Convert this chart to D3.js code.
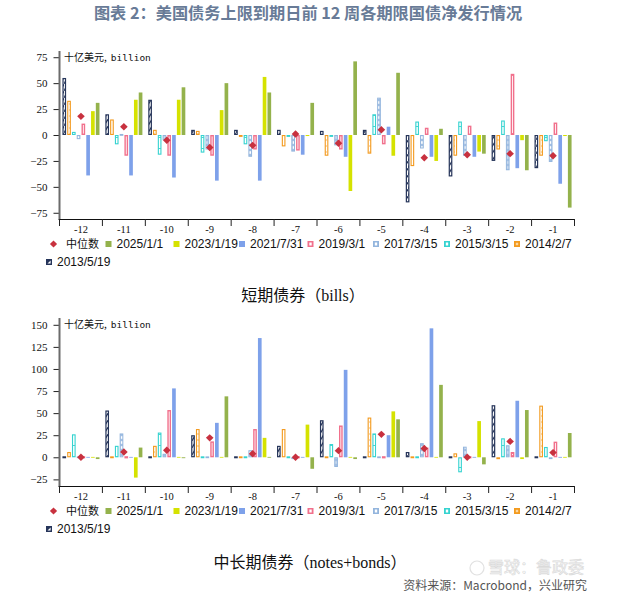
<!DOCTYPE html>
<html>
<head>
<meta charset="utf-8">
<script src="https://cdn.jsdelivr.net/npm/d3@7/dist/d3.min.js"></script>
<style>
  html, body { margin: 0; padding: 0; background: #fff; }
  svg { display: block; }
</style>
</head>
<body>
<svg id="chart" width="624" height="598"></svg>
<script>
// ---------------- DATA ----------------
const weeks = ["-12", "-11", "-10", "-9", "-8", "-7", "-6", "-5", "-4", "-3", "-2", "-1"];
const seriesNames = ["2013/5/19", "2014/2/7", "2015/3/15", "2017/3/15", "2019/3/1", "2021/7/31", "2023/1/19", "2025/1/1"];
const legendOrder = ["2025/1/1", "2023/1/19", "2021/7/31", "2019/3/1", "2017/3/15", "2015/3/15", "2014/2/7", "2013/5/19"];
const medianLabel = "中位数";

// short-term bills (billion USD), weeks -12 .. -1
const bills2013 = [55, 20, 34, 5, 5, 5, 4, 5, -65, -40, -25, -32];
const bills2014 = [33, 15, 5, 4, -1.5, -11, -20, -18, -30, -20, -14, -20];
const bills2015 = [3, -9, -19, -17, -9, -1, -1, 20, 13, 13, 14, -6];
const bills2017 = [-4, 1, -5, -14, -21, -16, -10, 36, -13, -20, -34, -26];
const bills2019 = [11, -20, -20, -20, -14, -15, -14, -9, 7, 9, 59, 12];
const bills2021 = [-39, -39, -41, -44, -44, -19, -21, 8, -21, -21, -32, -47];
const bills2023 = [23, 34, 34, 24, 56, -1, -54, -20, -25, -16, -5, -1];
const bills2025 = [31, 41, 46, 50, 41, 31, 71, 60, 6, -18, -34, -70];
const billsMedian = [18, 8, -5, -12, -10, 1, -8, 5, -22, -19, -18, -20];
const billsTicks = [-75, -50, -25, 0, 25, 50, 75];

// notes + bonds (billion USD), weeks -12 .. -1
const bonds2013 = [0, 53, 0, 25, 0, 13, 42, 0, 6, 0, 59, 0];
const bonds2014 = [6, 0, 13, 32, 0, 32, 0, 45, 0, 4.5, -1, 58.5];
const bonds2015 = [26, 13, 28, 0, 0, 0, 15, 27, 0, -17, 21.5, 11.7];
const bonds2017 = [0, 27, 4, 0, 8, -1, -11, 0, 16, 12, 13.6, -1];
const bonds2019 = [0, 0, 53.5, 18, 32, 0, 36, 0, 11, 0, 6, 17.7];
const bonds2021 = [0, 0, 78, 39, 135, 0, 99, 25, 146, 0, 64, 0];
const bonds2023 = [0, -23, 0, 0, 22, 37, 0, 52, 0, 41, -2, 0];
const bonds2025 = [-2, 11, -1, 69, 0, -13, -2, 43, 82, -8, 53.5, 27.5];
const bondsMedian = [0, 6, 8, 22, 4, 0, 7.5, 26, 10, 0, 18, 5.3];
const bondsTicks = [-25, 0, 25, 50, 75, 100, 125, 150];

const titleText = "图表 2：美国债务上限到期日前 12 周各期限国债净发行情况";
const unitCJK = "十亿美元,";
const unitLatin = "billion";
const billsSubtitle = "短期债券（bills）";
const bondsSubtitle = "中长期债券（notes+bonds）";
const sourceText = "资料来源：Macrobond，兴业研究";
const watermarkText = "雪球：鲁政委";

// ---------------- STYLE ----------------
const colors = {
  "2013/5/19": "#26355a",
  "2014/2/7": "#f39a1e",
  "2015/3/15": "#35d3d0",
  "2017/3/15": "#93b5dd",
  "2019/3/1": "#f1708c",
  "2021/7/31": "#7ea1ea",
  "2023/1/19": "#d5e200",
  "2025/1/1": "#94b24c"
};
const medianColor = "#c8313f";
const strokeW = { "2013/5/19": 1.2, "2014/2/7": 1.1, "2015/3/15": 1.1, "2017/3/15": 1.0, "2019/3/1": 1.4 };
const patternId = { "2013/5/19": "p2013", "2014/2/7": "p2014", "2015/3/15": "p2015", "2017/3/15": "p2017", "2019/3/1": "p2019" };

const svg = d3.select("#chart");
const defs = svg.append("defs");

// patterns
(function () {
  let p = defs.append("pattern").attr("id", "p2013").attr("patternUnits", "userSpaceOnUse")
    .attr("width", 4).attr("height", 7);
  p.append("rect").attr("width", 4).attr("height", 7).attr("fill", "#fff");
  p.append("path").attr("d", "M-0.5,7.5 L4.5,-0.5").attr("stroke", colors["2013/5/19"]).attr("stroke-width", 1.2);

  p = defs.append("pattern").attr("id", "p2014").attr("patternUnits", "userSpaceOnUse")
    .attr("width", 4).attr("height", 6);
  p.append("rect").attr("width", 4).attr("height", 6).attr("fill", "#fff");
  p.append("path").attr("d", "M1,1 L3,3 M3,1 L1,3").attr("stroke", "#f7c27a").attr("stroke-width", 0.6);

  p = defs.append("pattern").attr("id", "p2015").attr("patternUnits", "userSpaceOnUse")
    .attr("width", 4).attr("height", 11);
  p.append("rect").attr("width", 4).attr("height", 11).attr("fill", "#fff");
  p.append("rect").attr("y", 5).attr("width", 4).attr("height", 0.9).attr("fill", colors["2015/3/15"]);

  p = defs.append("pattern").attr("id", "p2017").attr("patternUnits", "userSpaceOnUse")
    .attr("width", 4).attr("height", 5);
  p.append("rect").attr("width", 4).attr("height", 5).attr("fill", "#a4c0e4");
  p.append("rect").attr("x", 0.6).attr("y", 1.2).attr("width", 2.8).attr("height", 2.6).attr("fill", "#fff");

  p = defs.append("pattern").attr("id", "p2019").attr("patternUnits", "userSpaceOnUse")
    .attr("width", 4).attr("height", 4);
  p.append("rect").attr("width", 4).attr("height", 4).attr("fill", "#fff");
})();

// ---------------- TITLE ----------------
svg.append("text")
  .attr("x", 308).attr("y", 19)
  .attr("text-anchor", "middle")
  .attr("font-family", "'Noto Sans CJK SC', sans-serif")
  .attr("font-weight", "bold")
  .attr("font-size", 16.2)
  .attr("fill", "#687b97")
  .text(titleText);

// ---------------- PANEL ----------------
function drawPanel(cfg) {
  const g = svg.append("g");
  const x = d3.scaleBand().domain(weeks).range([cfg.left, cfg.right]).paddingInner(0).paddingOuter(0);
  const xi = d3.scaleBand().domain(seriesNames).range([0, x.bandwidth()]).paddingInner(0.23).paddingOuter(0.615);
  const y = d3.scaleLinear().domain(cfg.domain).range([cfg.bottom, cfg.top]);

  // bars
  seriesNames.forEach(s => {
    const vals = cfg.data[s];
    const sw = strokeW[s] || 0;
    const gs = g.append("g");
    gs.selectAll("rect").data(vals.map((v, i) => ({ v, w: weeks[i] }))).join("rect")
      .attr("x", d => x(d.w) + xi(s) + sw / 2)
      .attr("width", Math.max(0.5, xi.bandwidth() - sw))
      .attr("y", d => Math.min(y(d.v), y(0)) + (d.v === 0 ? -0.4 : sw / 2))
      .attr("height", d => Math.max(0.8, Math.abs(y(d.v) - y(0)) - sw))
      .attr("fill", d => patternId[s] ? `url(#${patternId[s]})` : colors[s])
      .attr("stroke", sw ? colors[s] : "none")
      .attr("stroke-width", sw);
  });

  // median diamonds
  g.append("g").selectAll("path").data(cfg.median.map((v, i) => ({ v, w: weeks[i] }))).join("path")
    .attr("d", "M0,-3.7 L3.8,0 L0,3.7 L-3.8,0 Z")
    .attr("transform", d => `translate(${x(d.w) + x.bandwidth() / 2},${y(d.v)})`)
    .attr("fill", medianColor);

  // left axis
  const ya = g.append("g").attr("transform", `translate(${cfg.left},0)`)
    .call(d3.axisLeft(y).tickValues(cfg.ticks).tickSize(6).tickPadding(6));
  ya.select(".domain").remove();
  ya.selectAll(".tick line").attr("stroke", "#222");
  ya.selectAll(".tick text")
    .attr("font-family", "'Liberation Serif', serif").attr("font-size", 11).attr("fill", "#111");
  g.append("line").attr("x1", cfg.left).attr("x2", cfg.left)
    .attr("y1", cfg.top).attr("y2", cfg.bottom)
    .attr("stroke", "#6b6b6b").attr("stroke-width", 2);

  // bottom axis
  g.append("line").attr("x1", cfg.left - 1).attr("x2", cfg.right)
    .attr("y1", cfg.bottom + 0.5).attr("y2", cfg.bottom + 0.5)
    .attr("stroke", "#111").attr("stroke-width", 1);
  const bounds = weeks.map(w => x(w)).concat([cfg.right]);
  g.append("g").selectAll("line").data(bounds).join("line")
    .attr("x1", d => d).attr("x2", d => d)
    .attr("y1", cfg.bottom).attr("y2", cfg.bottom + 7)
    .attr("stroke", "#222").attr("stroke-width", 1);
  g.append("g").selectAll("text").data(weeks).join("text")
    .attr("x", d => x(d) + x.bandwidth() / 2)
    .attr("y", cfg.bottom + 13.5)
    .attr("text-anchor", "middle")
    .attr("font-family", "'Liberation Serif', serif").attr("font-size", 10.5).attr("fill", "#111")
    .text(d => d);

  // unit label
  const ut = g.append("text").attr("x", cfg.left + 4.5).attr("y", cfg.top + 9.5).attr("fill", "#111");
  ut.append("tspan").attr("font-family", "'Noto Sans CJK SC', sans-serif").attr("font-size", 10).text(unitCJK);
  ut.append("tspan").attr("dx", 4).attr("font-family", "'DejaVu Sans Mono', monospace").attr("font-size", 9.5).text(unitLatin);

  // legend
  const ly = cfg.bottom + 25;
  const ly2 = cfg.bottom + 43;
  const lg = g.append("g").attr("font-family", "'Liberation Sans', 'Noto Sans CJK SC', sans-serif").attr("font-size", 12).attr("fill", "#111");
  lg.append("path").attr("d", "M0,-3.6 L3.6,0 L0,3.6 L-3.6,0 Z")
    .attr("transform", `translate(53.5,${ly})`).attr("fill", medianColor);
  lg.append("text").attr("x", 66).attr("y", ly + 4)
    .attr("font-family", "'Noto Sans CJK SC', sans-serif").attr("font-size", 11).text(medianLabel);
  const swatchX = [105.5, 173.5, 239, 307.5, 373, 444, 514, 46];
  legendOrder.forEach((s, i) => {
    const sx = swatchX[i];
    const syc = i < 7 ? ly : ly2;
    const sg = lg.append("g").attr("transform", `translate(${sx},${syc - 3})`);
    sg.append("rect").attr("width", 6).attr("height", 6).attr("fill", colors[s]);
    if (s === "2019/3/1" || s === "2015/3/15" || s === "2017/3/15") {
      sg.append("rect").attr("x", 1.8).attr("y", 1.5).attr("width", 2.4).attr("height", 3).attr("fill", "#fff");
    } else if (s === "2014/2/7") {
      sg.append("rect").attr("x", 1.8).attr("y", 1.8).attr("width", 2.4).attr("height", 2.4).attr("fill", "#fbd7a2");
    } else if (s === "2013/5/19") {
      sg.append("path").attr("d", "M1.5,4.6 L4.6,1.5 L4.6,4.6 Z").attr("fill", "#fff");
    }
    lg.append("text").attr("x", sx + 11).attr("y", syc + 4.3).text(s);
  });

  // subtitle
  svg.append("text")
    .attr("x", cfg.subX).attr("y", cfg.bottom + 82)
    .attr("text-anchor", "middle")
    .attr("font-family", "'Liberation Serif', 'Noto Sans CJK SC', serif")
    .attr("font-size", 16).attr("fill", "#111")
    .text(cfg.subtitle);
}

function buildData(arrs) {
  const o = {};
  seriesNames.forEach((s, i) => { o[s] = arrs[i]; });
  return o;
}

drawPanel({
  left: 59.5, right: 574.5, top: 51, bottom: 219,
  domain: [-81, 81], ticks: billsTicks,
  data: buildData([bills2013, bills2014, bills2015, bills2017, bills2019, bills2021, bills2023, bills2025]),
  median: billsMedian,
  subtitle: billsSubtitle, subX: 303
});

drawPanel({
  left: 59.5, right: 574.5, top: 318, bottom: 486,
  domain: [-32.5, 157.7], ticks: bondsTicks,
  data: buildData([bonds2013, bonds2014, bonds2015, bonds2017, bonds2019, bonds2021, bonds2023, bonds2025]),
  median: bondsMedian,
  subtitle: bondsSubtitle, subX: 310
});

// watermark (faint)
const wm = svg.append("g").attr("opacity", 0.55);
wm.append("circle").attr("cx", 477).attr("cy", 568).attr("r", 7)
  .attr("fill", "none").attr("stroke", "#c9c9c9").attr("stroke-width", 1.2);
wm.append("text").attr("x", 488).attr("y", 573)
  .attr("font-family", "'Noto Sans CJK SC', sans-serif").attr("font-size", 16)
  .attr("fill", "#fff").attr("stroke", "#bdbdbd").attr("stroke-width", 0.7)
  .text(watermarkText);

// source
svg.append("text")
  .attr("x", 587).attr("y", 590)
  .attr("text-anchor", "end")
  .attr("font-family", "'Noto Sans CJK SC', sans-serif")
  .attr("font-size", 12).attr("fill", "#555")
  .text(sourceText);
</script>
</body>
</html>
